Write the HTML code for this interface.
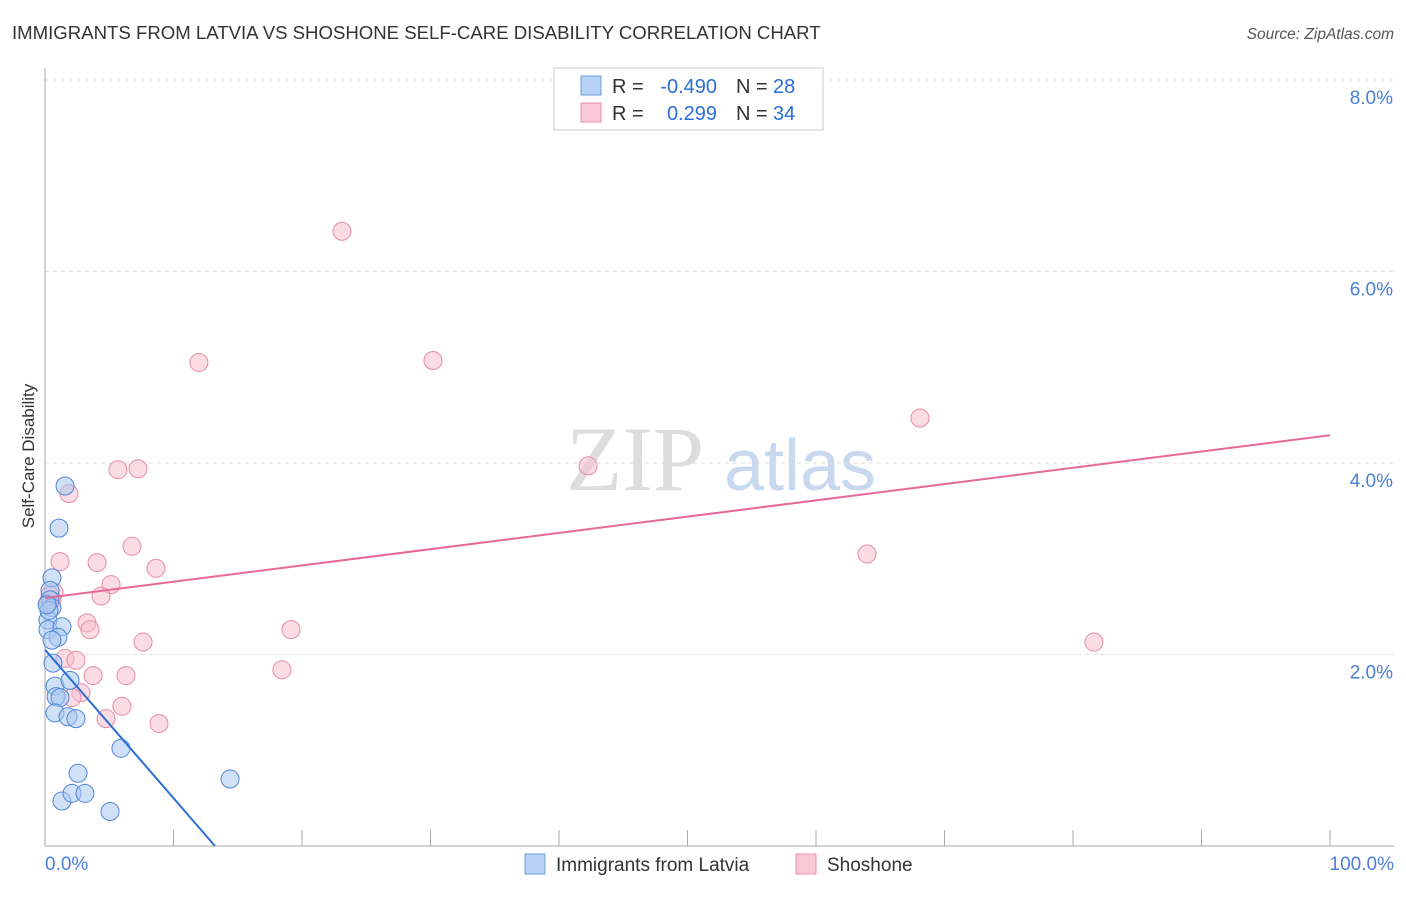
<!DOCTYPE html><html><head><meta charset="utf-8"><style>
body{margin:0;background:#fff;font-family:"Liberation Sans",sans-serif;}
</style></head><body>
<svg width="1406" height="892" xmlns="http://www.w3.org/2000/svg" font-family="Liberation Sans, sans-serif">
<text x="12" y="39" font-size="18.6" fill="#333">IMMIGRANTS FROM LATVIA VS SHOSHONE SELF-CARE DISABILITY CORRELATION CHART</text>
<text x="1394" y="39" font-size="15.5" fill="#555" font-style="italic" text-anchor="end">Source: ZipAtlas.com</text>
<g><text x="635" y="490" font-size="92" fill="#ddd" text-anchor="middle" font-family="Liberation Serif, serif">ZIP</text><text x="800" y="490" font-size="72" fill="#c8d8ef" text-anchor="middle">atlas</text></g>
<g id="grid"></g><g id="axes"></g><g id="marks"></g>
<text transform="translate(34,456) rotate(-90)" font-size="17" fill="#333" text-anchor="middle">Self-Care Disability</text>
<text x="45" y="870" font-size="19" fill="#4a7fd6">0.0%</text>
<text x="1394" y="870" font-size="19" fill="#4a7fd6" text-anchor="end">100.0%</text>
<g>
<rect x="525" y="854" width="20" height="20" fill="#b8d2f5" stroke="#6a9de0"/>
<text x="556" y="871" font-size="19" fill="#333">Immigrants from Latvia</text>
<rect x="796" y="854" width="20" height="20" fill="#f8c8d6" stroke="#e890a8"/>
<text x="827" y="871" font-size="19" fill="#333">Shoshone</text>
</g>
<g font-size="20">
<rect x="554" y="68" width="269" height="62" fill="#fff" stroke="#ccc"/>
<rect x="581" y="76" width="20" height="19" fill="#b8d2f5" stroke="#6a9de0"/>
<rect x="581" y="103" width="20" height="19" fill="#f8c8d6" stroke="#e890a8"/>
<text x="612" y="93" fill="#333">R =</text><text x="717" y="93" fill="#2a6fd6" text-anchor="end">-0.490</text>
<text x="736" y="93" fill="#333">N =</text><text x="773" y="93" fill="#2a6fd6">28</text>
<text x="612" y="120" fill="#333">R =</text><text x="717" y="120" fill="#2a6fd6" text-anchor="end">0.299</text>
<text x="736" y="120" fill="#333">N =</text><text x="773" y="120" fill="#2a6fd6">34</text>
</g>
</svg>
<script>
const yTicks=[2,4,6,8];
const yTickLabels=["2.0%","4.0%","6.0%","8.0%"];
const latviaX=[1.56,1.09,0.54,0.39,0.39,0.54,0.23,0.23,1.32,1.01,0.62,0.78,1.95,0.86,1.17,0.78,1.79,2.41,5.91,2.57,1.32,2.10,3.11,5.06,14.40,0.31,0.16,0.54];
const latviaY=[3.76,3.32,2.80,2.67,2.57,2.49,2.36,2.26,2.29,2.18,1.91,1.67,1.73,1.56,1.55,1.39,1.35,1.33,1.02,0.76,0.47,0.55,0.55,0.36,0.70,2.46,2.52,2.15];
const shoX=[23.11,11.98,30.19,68.09,5.68,7.24,42.26,1.87,1.17,4.05,6.77,8.64,63.97,5.14,4.36,0.70,0.54,0.23,3.27,3.50,7.63,19.14,81.63,1.56,2.41,18.44,3.74,6.30,2.80,2.10,5.99,4.75,8.87,0.39];
const shoY=[6.42,5.05,5.07,4.47,3.93,3.94,3.97,3.68,2.97,2.96,3.13,2.90,3.05,2.73,2.61,2.65,2.57,2.54,2.33,2.26,2.13,2.26,2.13,1.96,1.94,1.84,1.78,1.78,1.60,1.55,1.46,1.33,1.28,2.62];
const latviaTrend=[2.05,-0.155];
const shoTrend=[2.59,0.017];
const NS="http://www.w3.org/2000/svg";
const X=v=>45+v*12.85, Y=v=>846-v*95.75;
function mk(p,t,a){const e=document.createElementNS(NS,t);for(const k in a)e.setAttribute(k,a[k]);p.appendChild(e);return e;}
const grid=document.getElementById('grid'),axes=document.getElementById('axes'),marks=document.getElementById('marks');
yTicks.forEach((t,i)=>{
 const l=mk(grid,'line',{x1:45,x2:1394,y1:Y(t),y2:Y(t),stroke:'#ddd','stroke-dasharray':'4,4'});
 
 
 const tx=mk(grid,'text',{x:1393,y:Y(t)+24,'font-size':19,fill:'#4a7fd6','text-anchor':'end'});tx.textContent=yTickLabels[i];
 
 
});
const ax=mk(axes,'line',{x1:45,x2:45,y1:68,y2:846,stroke:'#aaa'});


const bx=mk(axes,'line',{x1:45,x2:1394,y1:846,y2:846,stroke:'#aaa'});


for(let i=0;i<=10;i++){const t=mk(axes,'line',{x1:X(i*10),x2:X(i*10),y1:830,y2:846,stroke:'#aaa'});
 
 }
function pts(xs,ys,fill,stroke,name){xs.forEach((x,i)=>{const c=mk(marks,'circle',{cx:X(x),cy:Y(ys[i]),r:9,fill:fill,stroke:stroke,'stroke-width':1,'fill-opacity':0.55});
 
 });}
pts(shoX,shoY,'#f8c0d0','#e68aa5','shoshone-point');
pts(latviaX,latviaY,'#aac8f0','#4f86d8','latvia-point');
const x0b=latviaTrend[0]/-latviaTrend[1];
const tl=mk(marks,'line',{x1:X(0),y1:Y(latviaTrend[0]),x2:X(x0b),y2:Y(0),stroke:'#2a6fd6','stroke-width':2});


const ts=mk(marks,'line',{x1:X(0),y1:Y(shoTrend[0]),x2:X(100),y2:Y(shoTrend[0]+100*shoTrend[1]),stroke:'#e8689a','stroke-width':2});


</script></body></html>
